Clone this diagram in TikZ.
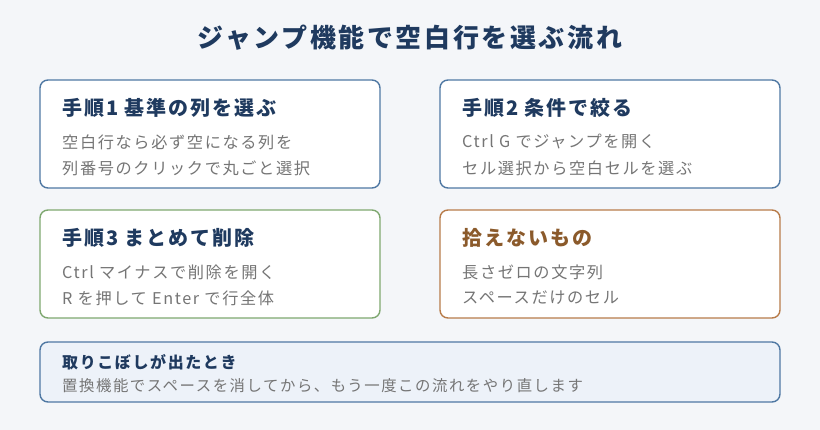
\documentclass[tikz,border=0pt]{standalone}
\usepackage{fontspec}
\setmainfont{Noto Sans CJK JP}[LetterSpace=10]
\usetikzlibrary{calc}

\definecolor{pagebg}{HTML}{F4F6F9}
\definecolor{headblue}{HTML}{1F3A5F}
\definecolor{stepblue}{HTML}{4F78A3}
\definecolor{stepgreen}{HTML}{7FA870}
\definecolor{steporange}{HTML}{B87C4A}
\definecolor{notebrown}{HTML}{8B5A2B}
\definecolor{bodygray}{HTML}{757575}
\definecolor{tipfill}{HTML}{EDF2F9}

\tikzset{
  card/.style={draw=#1, line width=1.4pt, rounded corners=8pt, fill=white},
  cardhead/.style={anchor=west, inner sep=0pt, font=\fontsize{20}{24}\selectfont\bfseries, text=headblue},
  cardline/.style={anchor=west, inner sep=0pt, font=\fontsize{16.2}{20}\selectfont, text=bodygray}
}

\begin{document}
\begin{tikzpicture}[x=1pt,y=-1pt]
  \fill[pagebg] (0,0) rectangle (820,430);
  \useasboundingbox (0,0) rectangle (820,430);

  \node[inner sep=0pt, font=\fontsize{26}{30}\selectfont\bfseries, text=headblue] (title) at (410,38) {ジャンプ機能で空白行を選ぶ流れ};

  % step 1
  \draw[card=stepblue] (40,80) rectangle (380,188);
  \node[cardhead] (s1head) at (62,108) {手順1 基準の列を選ぶ};
  \node[cardline] (s1a) at (62,142) {空白行なら必ず空になる列を};
  \node[cardline] (s1b) at (62,168) {列番号のクリックで丸ごと選択};

  % step 2
  \draw[card=stepblue] (440,80) rectangle (780,188);
  \node[cardhead] (s2head) at (462,108) {手順2 条件で絞る};
  \node[cardline] (s2a) at (462,142) {Ctrl G でジャンプを開く};
  \node[cardline] (s2b) at (462,168) {セル選択から空白セルを選ぶ};

  % step 3
  \draw[card=stepgreen] (40,210) rectangle (380,318);
  \node[cardhead] (s3head) at (62,238) {手順3 まとめて削除};
  \node[cardline] (s3a) at (62,272) {Ctrl マイナスで削除を開く};
  \node[cardline] (s3b) at (62,298) {R を押して Enter で行全体};

  % what is missed
  \draw[card=steporange] (440,210) rectangle (780,318);
  \node[cardhead, text=notebrown] (misshead) at (462,238) {拾えないもの};
  \node[cardline] (missa) at (462,272) {長さゼロの文字列};
  \node[cardline] (missb) at (462,298) {スペースだけのセル};

  % tip
  \draw[card=stepblue, fill=tipfill] (40,342) rectangle (780,402);
  \node[cardhead, font=\fontsize{16}{20}\selectfont\bfseries] (tiphead) at (62,362) {取りこぼしが出たとき};
  \node[cardline, font=\fontsize{15.4}{19}\selectfont] (tipline) at (62,386) {置換機能でスペースを消してから、もう一度この流れをやり直します};
\end{tikzpicture}
\end{document}
